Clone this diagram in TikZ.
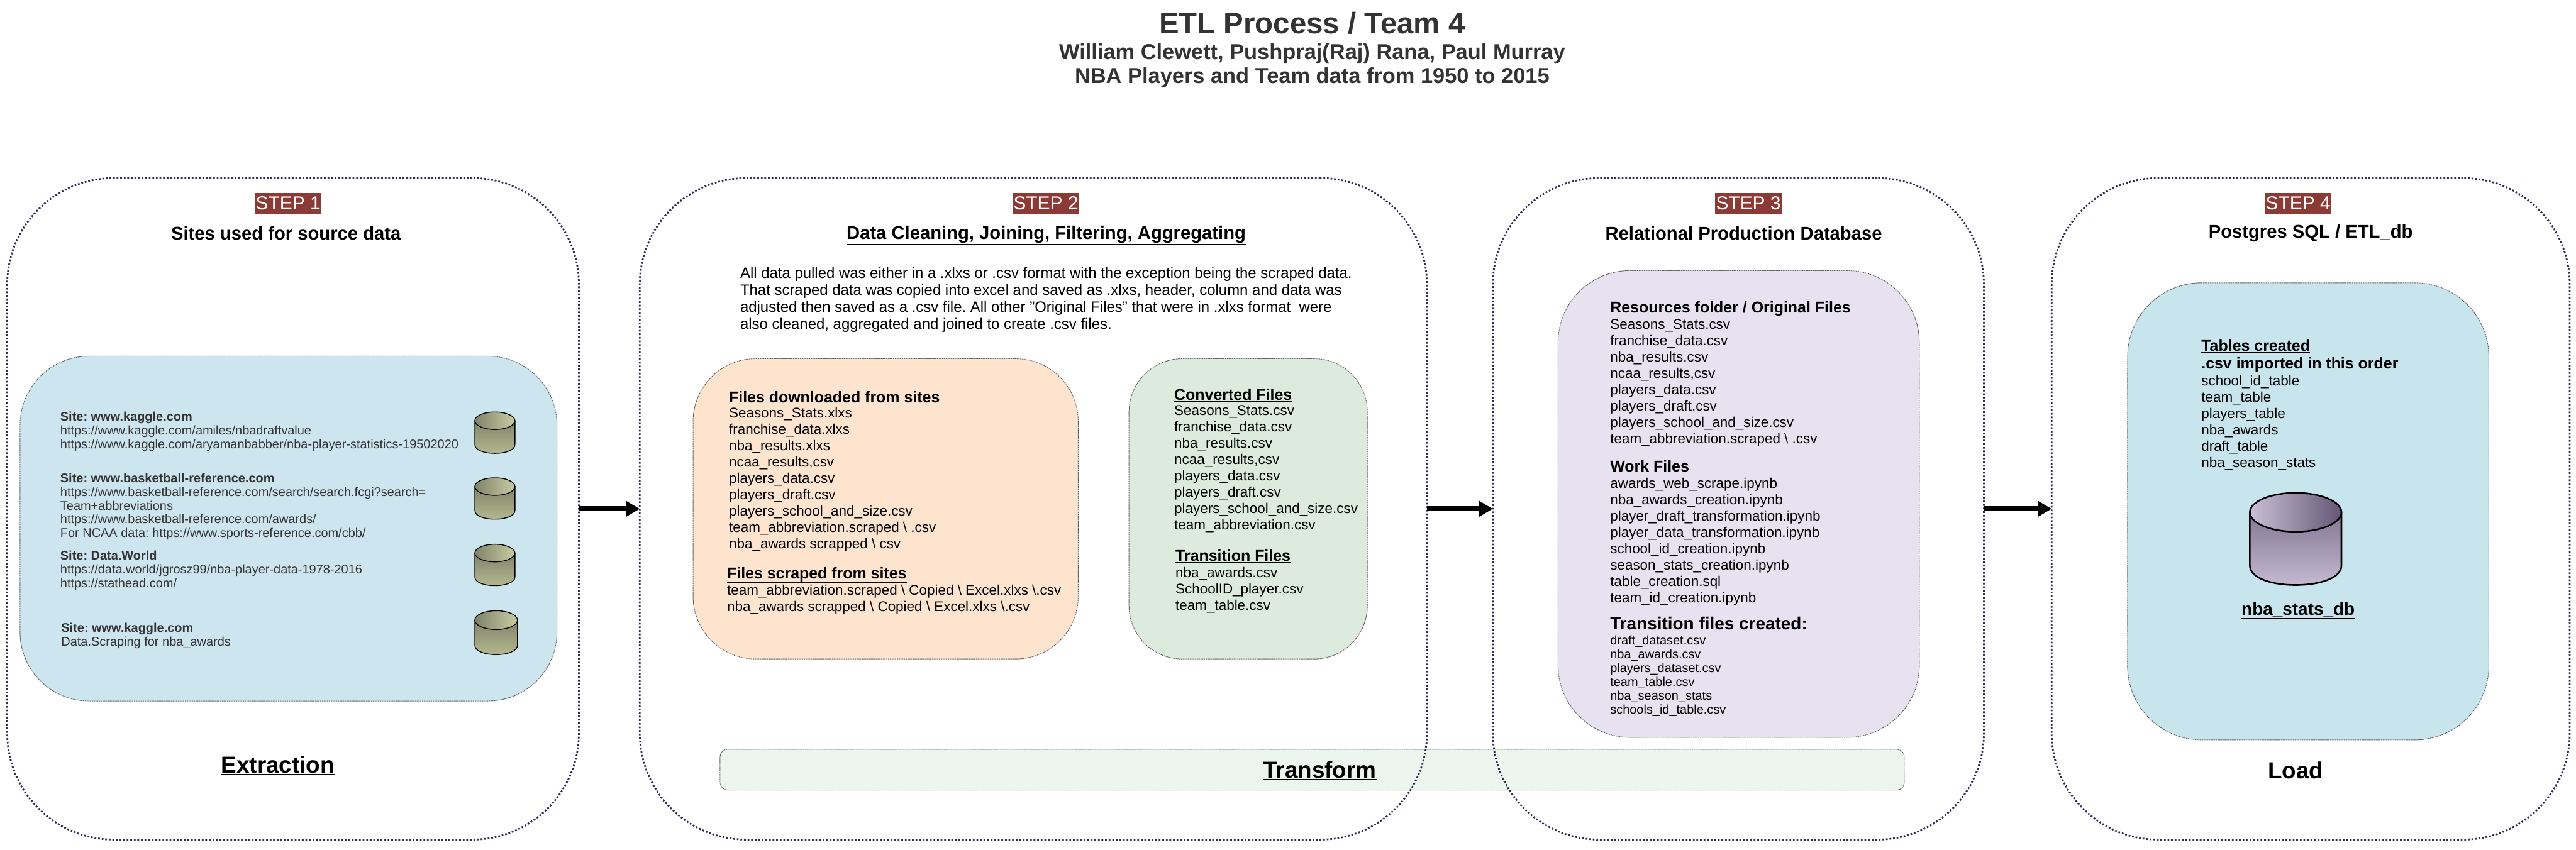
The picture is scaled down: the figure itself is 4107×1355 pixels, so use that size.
\documentclass[tikz,border=0pt]{standalone}
\usepackage{fontspec}
\setmainfont{Liberation Sans}
\frenchspacing
\usetikzlibrary{arrows.meta, positioning}
\definecolor{stepred}{RGB}{140,58,54}
\definecolor{stepline}{RGB}{52,44,80}
\definecolor{boxline}{RGB}{100,100,100}
\definecolor{inktitle}{RGB}{51,51,51}
\definecolor{siteblue}{RGB}{204,229,239}
\definecolor{loadblue}{RGB}{200,228,237}
\definecolor{fileorange}{RGB}{253,228,206}
\definecolor{filegreen}{RGB}{220,235,222}
\definecolor{barGreen}{RGB}{236,245,238}
\definecolor{prodpurple}{RGB}{231,226,239}
\definecolor{olivedark}{RGB}{128,132,106}
\definecolor{olivelight}{RGB}{184,188,146}
\definecolor{olivepale}{RGB}{200,204,162}
\definecolor{plumdark}{RGB}{130,118,146}
\definecolor{plumlight}{RGB}{203,190,214}
\definecolor{plumdeep}{RGB}{101,88,117}
\newcommand{\dbcan}[7]{%
  \draw[#1] (#3,#5+#7) -- (#3,#6-#7)
    .. controls (#3,#6+#7/3) and (#4,#6+#7/3) .. (#4,#6-#7) -- (#4,#5+#7) -- cycle;
  \draw[#2] ({(#3+#4)/2},#5+#7) ellipse [x radius={(#4-#3)/2}, y radius=#7];
}
\tikzset{
  stepbox/.style={draw=stepline, line width=2.8pt, dash pattern=on 2.8pt off 2.9pt, rounded corners=170pt,
    minimum height=1055pt, inner sep=0pt, outer sep=0pt},
  groupbox/.style={draw=boxline, line width=1pt, dash pattern=on 2pt off 0.8pt, inner sep=0pt, outer sep=0pt},
  steptag/.style={fill=stepred, text=white, font=\fontsize{30}{33}\selectfont, minimum height=34pt,
    inner xsep=1.5pt, inner ysep=0pt},
  steptitle/.style={font=\fontsize{29.3}{33}\selectfont\bfseries},
  phasename/.style={font=\fontsize{37}{42}\selectfont\bfseries},
  heading/.style={right, inner sep=0pt, font=\fontsize{25}{27.5}\selectfont\bfseries, align=left},
  filelist/.style={right, inner sep=0pt, font=\fontsize{22.5}{26.1}\selectfont, align=left},
  smalllist/.style={right, inner sep=0pt, font=\fontsize{20}{22}\selectfont, align=left},
  sitelist/.style={right, inner sep=0pt, text=inktitle, font=\fontsize{20}{22}\selectfont, align=left},
  flowarrow/.style={line width=8pt, -{Triangle[length=22pt,width=24pt]}},
  olivecan/.style={draw=black, line width=1.4pt, top color=olivedark, bottom color=olivelight},
  olivetop/.style={draw=black, line width=1.4pt, left color=olivedark, right color=olivepale},
  plumcan/.style={draw=black, line width=2.6pt, top color=plumdark, bottom color=plumlight},
  plumtop/.style={draw=black, line width=2.6pt, left color=plumlight, right color=plumdeep},
}
\begin{document}
\begin{tikzpicture}[x=1pt,y=-1pt]
    \useasboundingbox (0,0) rectangle (4107,1355);

    \node[font=\fontsize{47.5}{50}\selectfont\bfseries, text=inktitle] (maintitle) at (2092,37) {ETL Process / Team 4};
    \node[font=\fontsize{34.5}{38}\selectfont\bfseries, text=inktitle] (teamline) at (2092,85.5) {William Clewett, Pushpraj(Raj) Rana, Paul Murray};
    \node[font=\fontsize{34.5}{38}\selectfont\bfseries, text=inktitle] (dataline) at (2092,124) {NBA Players and Team data from 1950 to 2015};

    \node[groupbox, fill=barGreen, rounded corners=12pt, minimum width=1888pt, minimum height=65pt] (transformbar) at (2092,1227.5) {};

    \node[stepbox, minimum width=911.5pt] (stepone) at (467.25,811.5) {};
    \node[stepbox, minimum width=1255pt] (steptwo) at (1647.5,811.5) {};
    \node[stepbox, minimum width=783pt] (stepthree) at (2771.5,811.5) {};
    \node[stepbox, minimum width=826pt] (stepfour) at (3684,811.5) {};

    \draw[flowarrow] (stepone) -- (steptwo);
    \draw[flowarrow] (steptwo) -- (stepthree);
    \draw[flowarrow] (stepthree) -- (stepfour);

    \node[steptag] (tagone) at (459.5,324.5) {STEP 1};
    \node[steptitle] (titleone) at (460,373.5) {\underline{Sites used for source data\ }};
    \node[groupbox, fill=siteblue, rounded corners=110pt, minimum width=856pt, minimum height=550pt] (sitebox) at (460,843) {};
    \node[sitelist] (kaggleone) at (96,688) {\textbf{Site: www.kaggle.com}\\https://www.kaggle.com/amiles/nbadraftvalue\\https://www.kaggle.com/aryamanbabber/nba-player-statistics-19502020};
    \node[sitelist] (bballref) at (96,808) {\textbf{Site: www.basketball-reference.com}\\https://www.basketball-reference.com/search/search.fcgi?search=\\Team+abbreviations\\https://www.basketball-reference.com/awards/\\For NCAA data: https://www.sports-reference.com/cbb/};
    \node[sitelist] (dataworld) at (96,910) {\textbf{Site: Data.World}\\https://data.world/jgrosz99/nba-player-data-1978-2016\\https://stathead.com/};
    \node[sitelist] (kaggletwo) at (97.5,1014) {\textbf{Site: www.kaggle.com}\\Data.Scraping for nba\_awards};
    \dbcan{olivecan}{olivetop}{757}{821}{657}{723}{14}
    \dbcan{olivecan}{olivetop}{757}{821}{762}{828}{14}
    \dbcan{olivecan}{olivetop}{757}{821}{868}{934}{14}
    \dbcan{olivecan}{olivetop}{757}{825}{974}{1044}{15}
    \node[phasename] (extractname) at (443,1221) {\underline{Extraction}};

    \node[steptag] (tagtwo) at (1667.5,324.5) {STEP 2};
    \node[steptitle] (titletwo) at (1668,375.5) {\underline{Data Cleaning, Joining, Filtering, Aggregating}};
    \node[right, inner sep=0pt, align=left, font=\fontsize{24}{27.1}\selectfont] (cleantext) at (1180,478.5) {All data pulled was either in a .xlxs or .csv format with the exception being the scraped data.\\That scraped data was copied into excel and saved as .xlxs, header, column and data was\\adjusted then saved as a .csv file. All other "Original Files" that were in .xlxs format\ \ were\\also cleaned, aggregated and joined to create .csv files.};
    \node[groupbox, fill=fileorange, rounded corners=100pt, minimum width=614pt, minimum height=479pt] (origbox) at (1412,811.5) {};
    \node[groupbox, fill=filegreen, rounded corners=85pt, minimum width=380pt, minimum height=479pt] (convbox) at (1990,811.5) {};
    \node[heading] (dlhead) at (1162,634) {\underline{Files downloaded from sites}};
    \node[filelist] (dllist) at (1162,764.5) {Seasons\_Stats.xlxs\\franchise\_data.xlxs\\nba\_results.xlxs\\ncaa\_results,csv\\players\_data.csv\\players\_draft.csv\\players\_school\_and\_size.csv\\team\_abbreviation.scraped \textbackslash\ .csv\\nba\_awards scrapped \textbackslash\ csv};
    \node[heading] (scrapehead) at (1159,917) {\underline{Files scraped from sites}};
    \node[filelist] (scrapelist) at (1159,956.5) {team\_abbreviation.scraped \textbackslash\ Copied \textbackslash\ Excel.xlxs \textbackslash.csv\\nba\_awards scrapped \textbackslash\ Copied \textbackslash\ Excel.xlxs \textbackslash.csv};
    \node[heading] (convhead) at (1872,630) {\underline{Converted Files}};
    \node[filelist] (convlist) at (1872,748) {Seasons\_Stats.csv\\franchise\_data.csv\\nba\_results.csv\\ncaa\_results,csv\\players\_data.csv\\players\_draft.csv\\players\_school\_and\_size.csv\\team\_abbreviation.csv};
    \node[heading] (transhead) at (1874,887) {\underline{Transition Files}};
    \node[filelist] (translist) at (1874,941) {nba\_awards.csv\\SchoolID\_player.csv\\team\_table.csv};
    \node[phasename] (transformname) at (2104,1229) {\underline{Transform}};

    \node[steptag] (tagthree) at (2787.5,324.5) {STEP 3};
    \node[steptitle] (titlethree) at (2780,373.5) {\underline{Relational Production Database}};
    \node[groupbox, fill=prodpurple, rounded corners=115pt, minimum width=576pt, minimum height=744.5pt] (prodbox) at (2772,803.75) {};
    \node[heading] (reshead) at (2567,493) {\underline{Resources folder / Original Files}};
    \node[filelist] (reslist) at (2567,611) {Seasons\_Stats.csv\\franchise\_data.csv\\nba\_results.csv\\ncaa\_results,csv\\players\_data.csv\\players\_draft.csv\\players\_school\_and\_size.csv\\team\_abbreviation.scraped \textbackslash\ .csv};
    \node[heading] (workhead) at (2567,745) {\underline{Work Files\ }};
    \node[filelist] (worklist) at (2567,864) {awards\_web\_scrape.ipynb\\nba\_awards\_creation.ipynb\\player\_draft\_transformation.ipynb\\player\_data\_transformation.ipynb\\school\_id\_creation.ipynb\\season\_stats\_creation.ipynb\\table\_creation.sql\\team\_id\_creation.ipynb};
    \node[heading, font=\fontsize{28}{30}\selectfont\bfseries] (createdhead) at (2567,995) {\underline{Transition files created:}};
    \node[smalllist] (createdlist) at (2567,1078) {draft\_dataset.csv\\nba\_awards.csv\\players\_dataset.csv\\team\_table.csv\\nba\_season\_stats\\schools\_id\_table.csv};

    \node[steptag] (tagfour) at (3664,324.5) {STEP 4};
    \node[steptitle] (titlefour) at (3684,373.5) {\underline{Postgres SQL / ETL\_db}};
    \node[groupbox, fill=loadblue, rounded corners=118pt, minimum width=576pt, minimum height=729pt] (tablebox) at (3680,815.5) {};
    \node[heading] (tablehead) at (3509.5,568.5) {\underline{Tables created}\\\underline{.csv imported in this order}};
    \node[filelist] (tablelist) at (3509.5,674) {school\_id\_table\\team\_table\\players\_table\\nba\_awards\\draft\_table\\nba\_season\_stats};
    \dbcan{plumcan}{plumtop}{3587}{3733}{786}{933}{31}
    \node[font=\fontsize{28}{30}\selectfont\bfseries] (dbname) at (3664,974) {\underline{nba\_stats\_db}};
    \node[phasename] (loadname) at (3660,1230) {\underline{Load}};
  \end{tikzpicture}
\end{document}
